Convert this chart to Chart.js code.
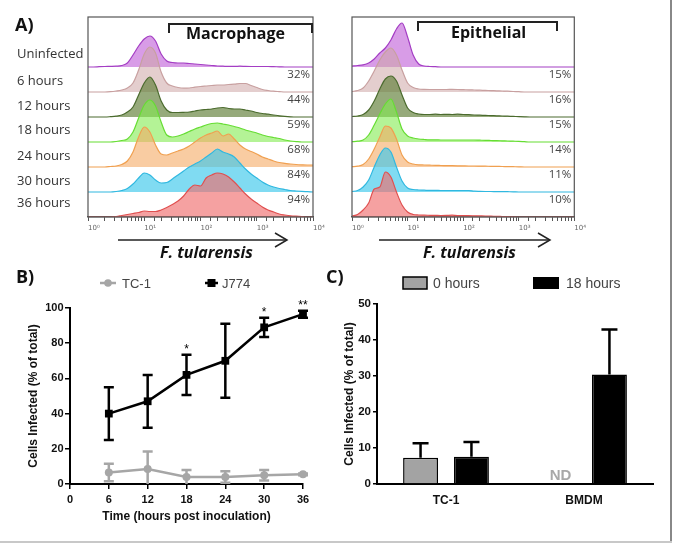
<!DOCTYPE html>
<html>
<head>
<meta charset="utf-8">
<script src="https://cdn.jsdelivr.net/npm/chart.js@4.4.1/dist/chart.umd.min.js"></script>
<style>
body{margin:0;background:#fff;}
#fig{position:relative;width:693px;height:545px;overflow:hidden;font-family:"Open Sans",sans-serif;color:#222;}
#fig canvas{position:absolute;}
.t{position:absolute;white-space:nowrap;line-height:1;}
.row{font-size:13px;left:17px;color:#333;}
.pl{font-size:18px;font-weight:700;color:#111;}
.hd{font-size:16px;font-weight:700;color:#111;}
.fl{font-size:16px;font-weight:700;font-style:italic;color:#111;}
.lg{font-family:Arial,"Liberation Sans",sans-serif;color:#444;}
.brk{position:absolute;box-sizing:border-box;border:2px solid #222;border-bottom:none;height:10px;}
</style>
</head>
<body>
<div id="fig">
<canvas id="histM" width="250" height="228" style="left:80px;top:10px"></canvas>
<canvas id="histE" width="250" height="228" style="left:344px;top:10px"></canvas>
<canvas id="chartB" width="330" height="245" style="left:0px;top:290px"></canvas>
<canvas id="chartC" width="350" height="245" style="left:320px;top:290px"></canvas>

<svg width="693" height="545" style="position:absolute;left:0;top:0;pointer-events:none">
<g stroke="#222" stroke-width="1.5" fill="none">
<line x1="118" y1="240" x2="287" y2="240"/>
<polyline points="275,233 287,240 275,247"/>
<line x1="379" y1="240" x2="550" y2="240"/>
<polyline points="538,233 550,240 538,247"/>
</g>
<line x1="100" y1="283" x2="116" y2="283" stroke="#a6a6a6" stroke-width="2.5"/>
<circle cx="108" cy="283" r="3.8" fill="#a6a6a6"/>
<line x1="205" y1="283" x2="218" y2="283" stroke="#000" stroke-width="2.5"/>
<rect x="207.5" y="279" width="8" height="8" fill="#000"/>
<rect x="403" y="277" width="24" height="12" fill="#a3a3a3" stroke="#000" stroke-width="1.5"/>
<rect x="533" y="277" width="26" height="12" fill="#000"/>
<line x1="671" y1="0" x2="671" y2="543" stroke="#888" stroke-width="2"/>
<line x1="0" y1="542" x2="672" y2="542" stroke="#c8c8c8" stroke-width="2"/>
</svg>

<div class="t pl" style="left:15px;top:15px">A)</div>
<div class="t pl" style="left:16px;top:267px">B)</div>
<div class="t pl" style="left:326px;top:267px">C)</div>

<div class="t row" style="top:47px">Uninfected</div>
<div class="t row" style="top:74px">6 hours</div>
<div class="t row" style="top:99px">12 hours</div>
<div class="t row" style="top:123px">18 hours</div>
<div class="t row" style="top:149px">24 hours</div>
<div class="t row" style="top:174px">30 hours</div>
<div class="t row" style="top:196px">36 hours</div>

<div class="brk" style="left:168px;top:23px;width:145px"></div>
<div class="t hd" style="left:186px;top:25px">Macrophage</div>
<div class="brk" style="left:417px;top:21px;width:141px"></div>
<div class="t hd" style="left:451px;top:24px">Epithelial</div>

<div class="t fl" style="left:160px;top:244px">F. tularensis</div>
<div class="t fl" style="left:423px;top:244px">F. tularensis</div>

<div class="t lg" style="left:122px;top:277px;font-size:13px">TC-1</div>
<div class="t lg" style="left:222px;top:277px;font-size:13px">J774</div>
<div class="t lg" style="left:433px;top:276px;font-size:14px">0 hours</div>
<div class="t lg" style="left:566px;top:276px;font-size:14px">18 hours</div>
</div>

<script>
// ---- panel A: flow histograms (log10 fluorescence bins) ----
const logBins = [0,0.1,0.2,0.3,0.4,0.5,0.6,0.7,0.8,0.9,1.0,1.1,1.2,1.3,1.4,1.5,1.6,1.7,1.8,1.9,2.0,
  2.1,2.2,2.3,2.4,2.5,2.6,2.7,2.8,2.9,3.0,3.1,3.2,3.3,3.4,3.5,3.6,3.7,3.8,3.9,4.0]
const rowLabels = ['Uninfected','6 hours','12 hours','18 hours','24 hours','30 hours','36 hours']
const macroPct = ['','32%','44%','59%','68%','84%','94%']
const epiPct = ['','15%','16%','15%','14%','11%','10%']

const macroUninf = [0,0,0.3,0.5,0.6,0.8,1.5,4,12,21,28,31,26,13,6,4.5,4,4,3.5,3,2.5,2,1.5,1,0.8,0.6,0.6,0.8,0.6,0.5,0.5,0.5,0.5,0.3,0.2,0,0,0,0,0,0]
const macro6h = [0,0,0,0,0.3,1,2,4,9,22,38,45,39,20,9,6,4.5,3.8,4,4.8,5.5,6,6.5,7,7,7.5,7.8,8.5,8.5,6.5,4.5,2.5,1.5,0.8,0.4,0,0,0,0,0,0]
const macro12h = [0,0,0,0,0.3,0.8,2,5,10,22,34,40,32,16,7,4.5,4.5,4.7,5,6,7,7.5,8,9,9.5,8.5,8,8,7,6,4.5,3.5,2.8,2,1.2,0.6,0.2,0,0,0,0]
const macro18h = [0,0,0,0,0,0.5,1.5,3,10,24,37,42,36,20,7,5,6,8,10.5,13,15,17,18.5,19,18,17,15.5,14,12,10.5,9,7,5.5,4.5,3.5,2,1,0.4,0,0,0]
const macro24h = [0,0,0,0,0.5,1,2.5,6,15,30,40,35,22,13,12,14,16,18,21,25,29,32,34,36,31,33,28,22,18,15.5,13,10,8,6,4.5,3.7,3,2.5,2.2,2,2]
const macro30h = [0,0,0,0,0,0.5,1.5,3.5,8,14,19,17,12,9,9.5,13,17,21,25,28,31,35,39,43,40,38,35,29,23,18,14,10,7,5,3.5,2.5,1.5,1,0.6,0.3,0]
const macro36h = [0,0,0,0,0,0.5,1.5,2.5,3.5,4.5,6,5.5,5.5,7,9.5,12.5,16,21,28,32,31,39,42,44,43,40,35,29,23,18,14,10,7,5,3,2,1.2,0.8,0.4,0,0]

const epiUninf = [1,1.5,2.2,4,8,14,19,27,38,44,30,12,3,1,0.5,0.3,0,0,0,0,0,0,0,0,0,0,0,0,0,0,0,0,0,0,0,0,0,0,0,0,0]
const epi6h = [0.5,1.5,4,11,21,32,40,44,37,22,9,4.5,3,2.6,2.5,2.5,2.5,2.5,2.6,2.5,2.3,2.2,2,1.8,1.6,1.4,1.2,1,0.8,0.5,0.3,0,0,0,0,0,0,0,0,0,0]
const epi12h = [0.5,1,2.5,7,16,28,38,41,36,22,9,4.5,3,2.5,2.5,2.8,2.5,2.6,2.5,2.8,2.5,2.3,2,1.8,1.6,1.4,1.2,1,0.8,0.6,0.4,0.2,0,0,0,0,0,0,0,0,0]
const epi18h = [0.3,0.8,2,7,17,28,38,43,30,13,6,4,3,2.5,2.2,2.2,2,2,2,2,2,2,2,1.8,1.6,1.5,1.4,1.2,1,0.8,0.6,0.3,0,0,0,0,0,0,0,0,0]
const epi24h = [0.3,0.8,2.5,8,18,30,41,39,28,12,5,3,2.2,2,1.8,1.6,1.5,1.4,1.3,1.2,1.1,1,1,0.9,0.8,0.7,0.6,0.5,0.4,0.3,0.2,0,0,0,0,0,0,0,0,0,0]
const epi30h = [0.5,1.5,5,12,25,37,44,40,25,11,4,2.5,2,1.8,1.6,1.6,1.5,1.5,1.5,1.5,1.5,1.5,0.8,0.6,0.5,0.5,0.4,0.4,0.3,0.2,0,0,0,0,0,0,0,0,0,0,0]
const epi36h = [1,2.5,7,14,28,30,45,40,25,12,5,2.5,2,1.8,1.7,1.6,1.5,1.6,1.8,1.5,1.5,1.3,1.2,1.1,1,0.8,0.7,0.5,0.3,0.1,0,0,0,0,0,0,0,0,0,0,0]

// ---- panel B: infection time course ----
const hours = [6, 12, 18, 24, 30, 36]
const tc1Mean = [6.5, 8.5, 4, 4, 5, 5.5]
const tc1Err = [5, 10, 4, 3.3, 3, 0.5]
const j774Mean = [40, 47, 62, 70, 89, 96.5]
const j774Err = [15, 15, 11.5, 21, 5.5, 2]
const j774Sig = ['', '', '*', '', '*', '**']

// ---- panel C: 0 vs 18 hours ----
const cellTypes = ['TC-1', 'BMDM']
const hours0 = [7.3, 0]
const hours0Err = [4, 0]
const hours0ND = [false, true]
const hours18 = [7.6, 30.4]
const hours18Err = [4.1, 12.5]

Chart.defaults.font.family = 'Arial, "Liberation Sans", sans-serif'

const rowLine = ['#a43ec4','#c8a0a0','#4b6b2e','#66dd33','#f0a050','#30b8e0','#e05050']
const rowFill = ['rgba(190,90,215,0.6)','rgba(205,165,165,0.55)','rgba(100,130,60,0.68)',
  'rgba(130,235,80,0.6)','rgba(245,170,100,0.6)','rgba(60,200,235,0.65)','rgba(240,110,110,0.65)']
const rowStep = 25
const sup = ['\u2070','\u00b9','\u00b2','\u00b3','\u2074']

function histExtras(pcts){
return {
id: 'histExtras',
afterDraw(chart){
const {ctx, chartArea: a, scales: {y}} = chart
ctx.save()
ctx.strokeStyle = '#555'
ctx.lineWidth = 1.2
ctx.strokeRect(a.left, a.top, a.right - a.left, a.bottom - a.top)
ctx.font = '11.5px "Open Sans", sans-serif'
ctx.fillStyle = '#444'
ctx.textAlign = 'right'
ctx.textBaseline = 'middle'
pcts.forEach((t, i) => {
if (!t) return
const base = (pcts.length - 1 - i) * rowStep
ctx.fillText(t, a.right - 3, y.getPixelForValue(base) - 17)
})
ctx.restore()
}
}
}

function histChart(id, series, pcts, padRight){
const n = series.length
const datasets = series.map((vals, i) => {
const base = (n - 1 - i) * rowStep
return {
label: rowLabels[i],
data: logBins.map((e, k) => ({x: Math.pow(10, e), y: base + vals[k]})),
fill: {value: base},
borderColor: rowLine[i],
backgroundColor: rowFill[i],
borderWidth: 1.2,
pointRadius: 0,
cubicInterpolationMode: 'monotone',
order: n - 1 - i
}
})
return new Chart(document.getElementById(id), {
type: 'line',
data: {datasets},
options: {
responsive: false,
animation: false,
layout: {padding: {left: 8, top: 7, right: padRight, bottom: 0}},
plugins: {legend: {display: false}, tooltip: {enabled: false}},
scales: {
x: {
type: 'logarithmic', min: 1, max: 10000,
afterFit: s => { s.height = 21 },
border: {display: true, color: '#555', width: 1.2},
grid: {drawOnChartArea: false, tickLength: 4, color: '#555'},
ticks: {
autoSkip: false, maxRotation: 0, align: 'start', padding: 3,
color: '#666', font: {size: 7, family: '"DejaVu Sans", sans-serif'},
callback: v => {
const e = Math.round(Math.log10(v))
return Math.abs(Math.pow(10, e) - v) < 1e-6 ? '10' + sup[e] : ''
}
}
},
y: {display: false, min: 0, max: 200}
}
},
plugins: [histExtras(pcts)]
})
}

histChart('histM', [macroUninf, macro6h, macro12h, macro18h, macro24h, macro30h, macro36h], macroPct, 17)
histChart('histE', [epiUninf, epi6h, epi12h, epi18h, epi24h, epi30h, epi36h], epiPct, 19.7)

// error bars + significance stars for the time course
const errorBarsB = {
id: 'errorBarsB',
afterDatasetsDraw(chart){
const {ctx, scales: {y}} = chart
chart.data.datasets.forEach((ds, di) => {
const meta = chart.getDatasetMeta(di)
ctx.save()
ctx.strokeStyle = ds.borderColor
ctx.lineWidth = 2.5
meta.data.forEach((pt, i) => {
const m = ds.data[i].y, e = ds.errors[i]
const top = y.getPixelForValue(m + e)
const bot = y.getPixelForValue(Math.max(0, m - e))
ctx.beginPath()
ctx.moveTo(pt.x, top); ctx.lineTo(pt.x, bot)
ctx.moveTo(pt.x - 5, top); ctx.lineTo(pt.x + 5, top)
if (m - e > 0){ ctx.moveTo(pt.x - 5, bot); ctx.lineTo(pt.x + 5, bot) }
ctx.stroke()
if (ds.sig && ds.sig[i]){
ctx.fillStyle = '#000'
ctx.font = '12px Arial, "Liberation Sans", sans-serif'
ctx.textAlign = 'center'
ctx.textBaseline = 'alphabetic'
ctx.fillText(ds.sig[i], pt.x, top - 2)
}
})
ctx.restore()
})
}
}

const boldTick = {size: 11, weight: 'bold'}
const axisTitle = {size: 12, weight: 'bold'}

new Chart(document.getElementById('chartB'), {
type: 'line',
data: {
datasets: [
{
label: 'TC-1',
data: hours.map((h, i) => ({x: h, y: tc1Mean[i]})),
errors: tc1Err,
borderColor: '#a6a6a6', backgroundColor: '#a6a6a6',
borderWidth: 2.5, pointStyle: 'circle', pointRadius: 4, pointBorderWidth: 0,
clip: false
},
{
label: 'J774',
data: hours.map((h, i) => ({x: h, y: j774Mean[i]})),
errors: j774Err,
sig: j774Sig,
borderColor: '#000', backgroundColor: '#000',
borderWidth: 2.5, pointStyle: 'rect', pointRadius: 5.5, pointBorderWidth: 0,
clip: false
}
]
},
options: {
responsive: false,
animation: false,
layout: {padding: {left: 20, right: 27, top: 18, bottom: 0}},
plugins: {legend: {display: false}, tooltip: {enabled: false}},
scales: {
x: {
type: 'linear', min: 0, max: 36,
afterFit: s => { s.height = 51 },
border: {display: true, color: '#000', width: 2},
grid: {drawOnChartArea: false, tickLength: 5, color: '#000', lineWidth: 1.5},
ticks: {stepSize: 6, padding: 4, color: '#111', font: boldTick},
title: {display: true, text: 'Time (hours post inoculation)', color: '#111', font: axisTitle, padding: {top: 0, bottom: 10.8}}
},
y: {
min: 0, max: 100,
afterFit: s => { s.width = 50 },
border: {display: true, color: '#000', width: 2},
grid: {drawOnChartArea: false, tickLength: 5, color: '#000', lineWidth: 1.5},
ticks: {stepSize: 20, padding: 1.5, color: '#111', font: boldTick},
title: {display: true, text: 'Cells Infected (% of total)', color: '#111', font: axisTitle, padding: {top: 6, bottom: 0}}
}
}
},
plugins: [errorBarsB]
})

// upward error bars and "ND" marks for the bar panel
const errorBarsC = {
id: 'errorBarsC',
afterDatasetsDraw(chart){
const {ctx, scales: {y}} = chart
const y0 = y.getPixelForValue(0)
chart.data.datasets.forEach((ds, di) => {
chart.getDatasetMeta(di).data.forEach((bar, i) => {
ctx.save()
if (ds.nd && ds.nd[i]){
ctx.fillStyle = '#a8a8a8'
ctx.font = 'bold 15px Arial, "Liberation Sans", sans-serif'
ctx.textAlign = 'center'
ctx.textBaseline = 'alphabetic'
ctx.fillText('ND', bar.x + 2, y0 - 4.5)
ctx.restore()
return
}
const top = y.getPixelForValue(ds.data[i] + ds.errors[i])
ctx.strokeStyle = '#000'
ctx.lineWidth = 2.5
ctx.beginPath()
ctx.moveTo(bar.x, bar.y); ctx.lineTo(bar.x, top)
ctx.moveTo(bar.x - 8, top); ctx.lineTo(bar.x + 8, top)
ctx.stroke()
ctx.restore()
})
})
}
}

new Chart(document.getElementById('chartC'), {
type: 'bar',
data: {
labels: cellTypes,
datasets: [
{
label: '0 hours', data: hours0, errors: hours0Err, nd: hours0ND,
backgroundColor: '#a3a3a3', borderColor: '#000', borderWidth: 1.5,
categoryPercentage: 0.7375, barPercentage: 0.686
},
{
label: '18 hours', data: hours18, errors: hours18Err,
backgroundColor: '#000', borderColor: '#000', borderWidth: 1.5,
categoryPercentage: 0.7375, barPercentage: 0.686
}
]
},
options: {
responsive: false,
animation: false,
layout: {padding: {left: 15, right: 17, top: 14, bottom: 0}},
plugins: {legend: {display: false}, tooltip: {enabled: false}},
scales: {
x: {
afterFit: s => { s.height = 51 },
border: {display: true, color: '#000', width: 2},
grid: {drawOnChartArea: false, tickLength: 5, color: 'rgba(0,0,0,0)'},
ticks: {padding: 4, color: '#111', font: {size: 12, weight: 'bold'}}
},
y: {
min: 0, max: 50,
afterFit: s => { s.width = 42 },
border: {display: true, color: '#000', width: 2},
grid: {drawOnChartArea: false, tickLength: 4, color: '#000', lineWidth: 1.5},
ticks: {stepSize: 10, padding: 2, color: '#111', font: {size: 11.5, weight: 'bold'}},
title: {display: true, text: 'Cells Infected (% of total)', color: '#111', font: axisTitle, padding: {top: 7.8, bottom: 0}}
}
}
},
plugins: [errorBarsC]
})
</script>
</body>
</html>
